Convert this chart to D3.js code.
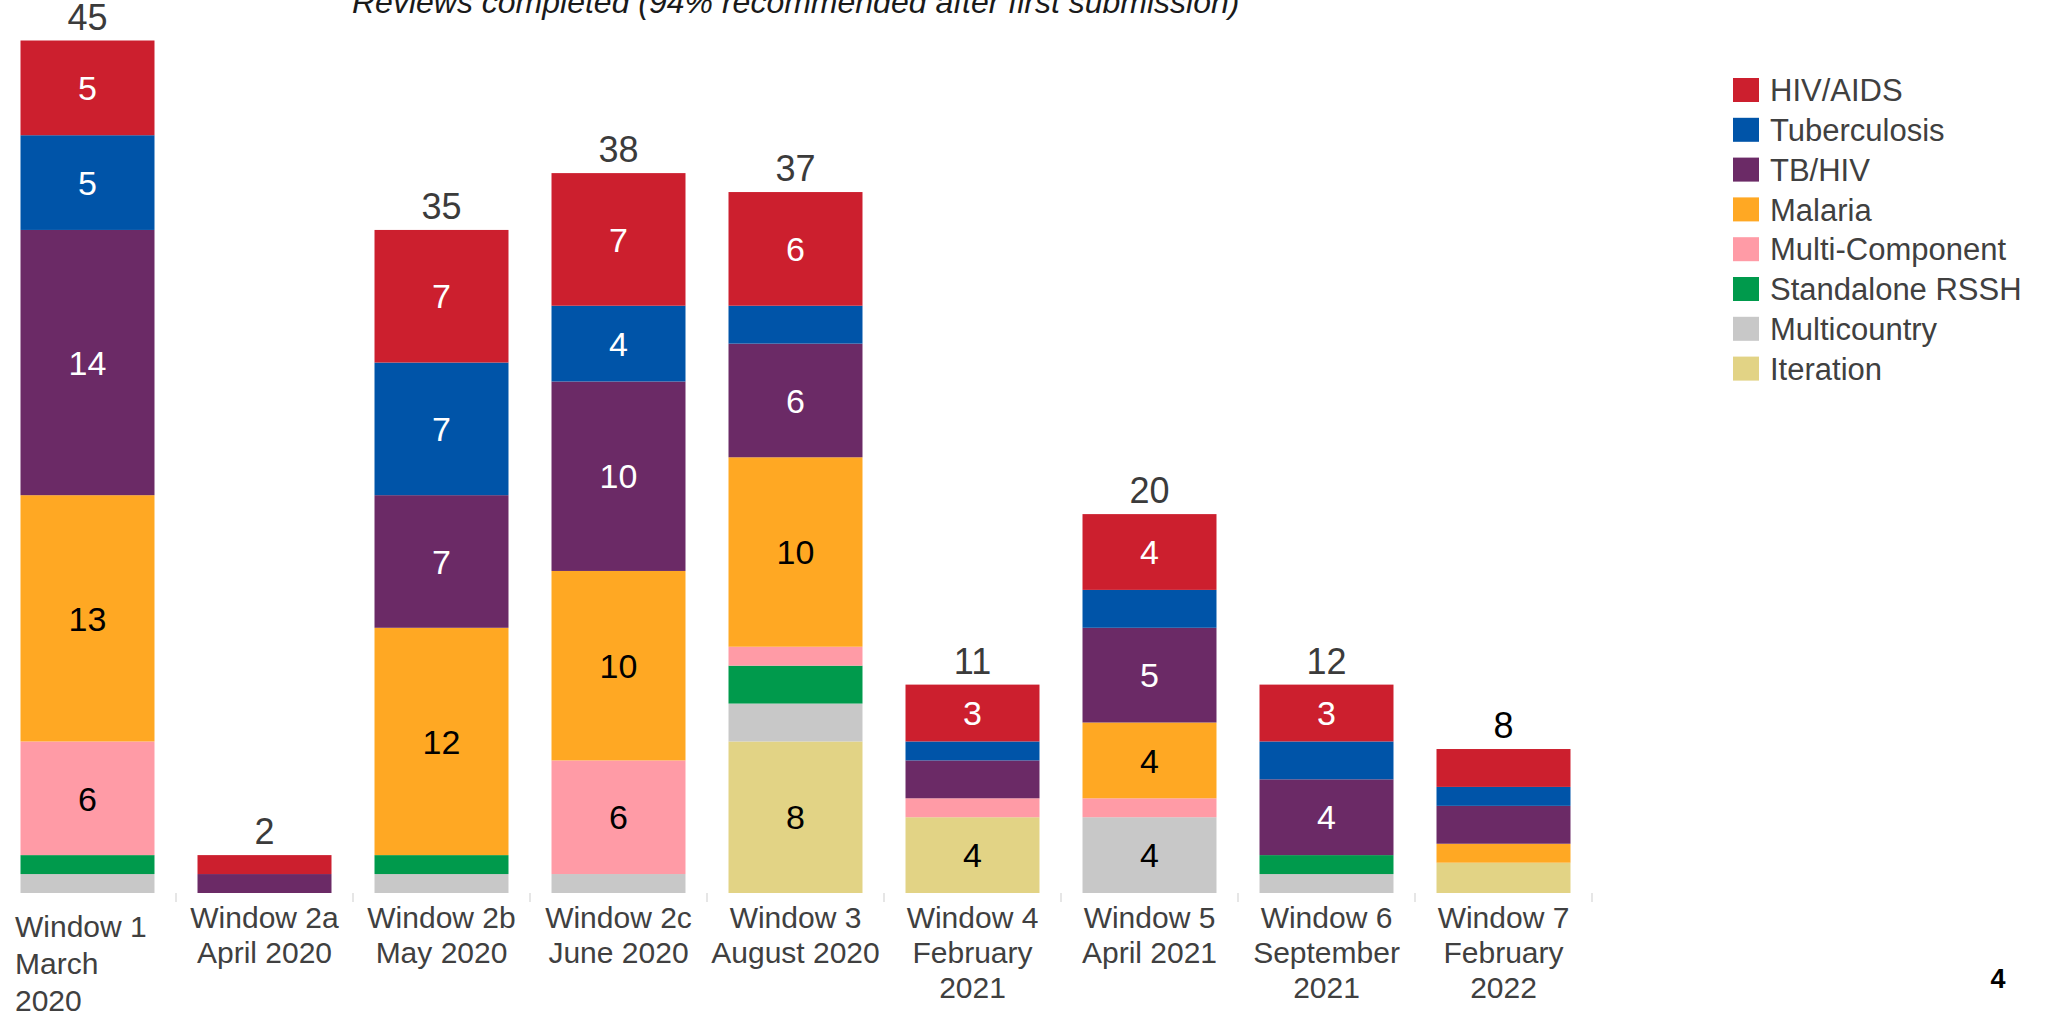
<!DOCTYPE html>
<meta charset="utf-8">
<head>
    <script src="https://d3js.org/d3.v7.min.js"></script>
    <style>
    body { margin: 0; background: #fff; }
    text { font-family: "Liberation Sans", Arial, sans-serif; }
    </style>
</head>
<body>
<script>

// categories (review windows) and their label lines
var windows = ["W1", "W2a", "W2b", "W2c", "W3", "W4", "W5", "W6", "W7"];
var windowLabels = [
    ["Window 1", "March", "2020"],
    ["Window 2a", "April 2020"],
    ["Window 2b", "May 2020"],
    ["Window 2c", "June 2020"],
    ["Window 3", "August 2020"],
    ["Window 4", "February", "2021"],
    ["Window 5", "April 2021"],
    ["Window 6", "September", "2021"],
    ["Window 7", "February", "2022"]
];

// series, top of the legend first
var seriesNames = ["HIV/AIDS", "Tuberculosis", "TB/HIV", "Malaria",
                   "Multi-Component", "Standalone RSSH", "Multicountry", "Iteration"];
var seriesColors = ["#cc1f2e", "#0054a8", "#6b2a66", "#ffa823",
                    "#ff9ba6", "#009a4c", "#c8c8c8", "#e2d385"];

// values per series, one per window
var hivAids        = [5, 1, 7, 7, 6, 3, 4, 3, 2];
var tuberculosis   = [5, 0, 7, 4, 2, 1, 2, 2, 1];
var tbHiv          = [14, 1, 7, 10, 6, 2, 5, 4, 2];
var malaria        = [13, 0, 12, 10, 10, 0, 4, 0, 1];
var multiComponent = [6, 0, 0, 6, 1, 1, 1, 0, 0];
var standaloneRssh = [1, 0, 1, 0, 2, 0, 0, 1, 0];
var multicountry   = [1, 0, 1, 1, 2, 0, 4, 1, 0];
var iteration      = [0, 0, 0, 0, 8, 4, 0, 0, 1.6];

// totals as printed above the bars
var totals = [45, 2, 35, 38, 37, 11, 20, 12, 8];

var seriesValues = [hivAids, tuberculosis, tbHiv, malaria,
                    multiComponent, standaloneRssh, multicountry, iteration];

var width = 2048, height = 1013;

var svg = d3.select("body").append("svg")
    .attr("width", width)
    .attr("height", height);

// build rows for the stack
var rows = windows.map(function(w, i) {
    var r = {window: w};
    seriesNames.forEach(function(s, j) { r[s] = seriesValues[j][i]; });
    return r;
});

// stack from the bottom: Iteration first, HIV/AIDS last
var stack = d3.stack().keys(seriesNames.slice().reverse());
var layers = stack(rows);

var x = d3.scaleBand()
    .domain(windows)
    .range([-1, 1592])
    .paddingInner(0.243)
    .paddingOuter(0.1215);

var y = d3.scaleLinear()
    .domain([0, 45])
    .range([893, 40.5]);

var color = d3.scaleOrdinal().domain(seriesNames).range(seriesColors);
var darkText = ["HIV/AIDS", "Tuberculosis", "TB/HIV"];

// bars
var layer = svg.selectAll(".layer")
    .data(layers)
  .enter().append("g")
    .attr("class", "layer")
    .attr("fill", function(d) { return color(d.key); });

layer.selectAll("rect")
    .data(function(d) { return d; })
  .enter().append("rect")
    .attr("x", function(d) { return x(d.data.window); })
    .attr("y", function(d) { return y(d[1]); })
    .attr("width", x.bandwidth())
    .attr("height", function(d) { return y(d[0]) - y(d[1]); });

// segment values (only the bigger segments carry a label)
layers.forEach(function(l) {
    svg.append("g").selectAll("text")
        .data(l.filter(function(d) { return d[1] - d[0] >= 3; }))
      .enter().append("text")
        .attr("x", function(d) { return x(d.data.window) + x.bandwidth() / 2; })
        .attr("y", function(d) { return (y(d[0]) + y(d[1])) / 2; })
        .attr("dy", "0.36em")
        .attr("text-anchor", "middle")
        .style("font-size", "34px")
        .style("fill", darkText.indexOf(l.key) >= 0 ? "#ffffff" : "#000000")
        .text(function(d) { return d[1] - d[0]; });
});

// totals above the bars
svg.append("g").selectAll("text")
    .data(rows)
  .enter().append("text")
    .attr("x", function(d) { return x(d.window) + x.bandwidth() / 2; })
    .attr("y", function(d) {
        var top = d3.sum(seriesNames, function(s) { return d[s]; });
        return y(top) - 11;
    })
    .attr("text-anchor", "middle")
    .style("font-size", "36px")
    .style("fill", function(d, i) { return i === 8 ? "#000" : "#3b3b3b"; })
    .text(function(d, i) { return totals[i]; });

// faint tick marks between categories
svg.append("g").selectAll("line")
    .data(windows)
  .enter().append("line")
    .attr("x1", function(d) { return x(d) + x.bandwidth() + x.step() * x.paddingInner() / 2; })
    .attr("x2", function(d) { return x(d) + x.bandwidth() + x.step() * x.paddingInner() / 2; })
    .attr("y1", 893)
    .attr("y2", 902)
    .style("stroke", "#e6e6e6")
    .style("stroke-width", 2);

// category labels
var labels = svg.append("g").selectAll("text")
    .data(windows)
  .enter().append("text")
    .style("font-size", "30px")
    .style("fill", "#404040")
    .attr("text-anchor", function(d, i) { return i === 0 ? "start" : "middle"; })
    .attr("transform", function(d, i) {
        var cx = i === 0 ? 15 : x(d) + x.bandwidth() / 2;
        var cy = i === 0 ? 937 : 928;
        return "translate(" + cx + "," + cy + ")";
    });

labels.each(function(d, i) {
    var t = d3.select(this);
    var gap = i === 0 ? 37 : 35;
    windowLabels[i].forEach(function(line, k) {
        t.append("tspan")
            .attr("x", 0)
            .attr("y", k * gap)
            .text(line);
    });
});

// legend
var legend = svg.append("g")
    .attr("transform", "translate(1733,78)");

var item = legend.selectAll("g")
    .data(seriesNames)
  .enter().append("g")
    .attr("transform", function(d, i) { return "translate(0," + (i * 39.8) + ")"; });

item.append("rect")
    .attr("width", 26)
    .attr("height", 24)
    .attr("fill", function(d) { return color(d); });

item.append("text")
    .attr("x", 37)
    .attr("y", 12)
    .attr("dy", "0.36em")
    .style("font-size", "31px")
    .style("fill", "#404040")
    .text(function(d) { return d; });

// title, clipped at the top of the page
svg.append("text")
    .attr("x", 352)
    .attr("y", 13)
    .style("font-size", "32px")
    .style("font-style", "italic")
    .style("fill", "#1a1a1a")
    .text("Reviews completed (94% recommended after first submission)");

// page number
svg.append("text")
    .attr("x", 1998)
    .attr("y", 988)
    .attr("text-anchor", "middle")
    .style("font-size", "27px")
    .style("font-weight", "bold")
    .style("fill", "#000")
    .text("4");

</script>
</body>
